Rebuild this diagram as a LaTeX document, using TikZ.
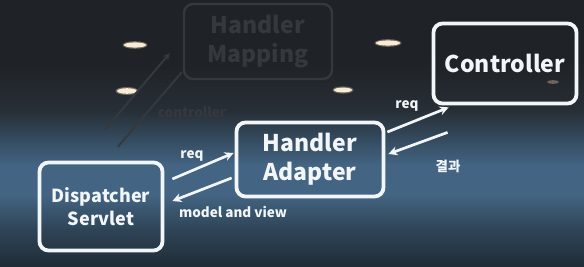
\documentclass[tikz,border=0pt]{standalone}
\usepackage{fontspec}
\setmainfont{Noto Sans CJK KR}
\usetikzlibrary{calc,arrows.meta}

\definecolor{ceiling}{HTML}{1F2226}
\definecolor{upper}{HTML}{272E35}
\definecolor{bandtop}{HTML}{354C60}
\definecolor{band}{HTML}{436482}
\definecolor{floorlit}{HTML}{2E4456}
\definecolor{floor}{HTML}{1F2B36}
\definecolor{ink}{HTML}{F2F6F8}
\definecolor{lamp}{HTML}{F8ECD8}
\definecolor{lamphalo}{HTML}{6E6558}
\definecolor{ghostink}{HTML}{35393D}

% projection wall: dark top, lit bluish band, darker floor
% (the middle 25bp..75bp of a shading is what covers the path)
\pgfdeclareverticalshading{wall}{100bp}{
  color(0bp)=(floor);
  color(25bp)=(floor);
  color(31.9bp)=(floorlit);
  color(38.5bp)=(band);
  color(44.1bp)=(band);
  color(48.8bp)=(bandtop);
  color(54.4bp)=(upper);
  color(63.8bp)=(ceiling);
  color(100bp)=(ceiling)}

\tikzset{
  box/.style={draw=ink, line width=3.8pt, rounded corners=9pt, inner sep=0pt,
    align=center, text=ink, font=\bfseries\fontsize{23}{29}\selectfont},
  ghost/.style={draw=ghostink, line width=2.4pt, rounded corners=9pt,
    inner sep=0pt, align=center, text=ghostink,
    font=\bfseries\fontsize{23}{29}\selectfont},
  ghostline/.style={draw=ghostink, line width=2pt},
  flow/.style={draw=ink, line width=2.7pt, -{Stealth[length=9pt,width=9pt]}},
  tag/.style={text=ink, font=\bfseries\fontsize{13.5}{16}\selectfont, inner sep=0pt}
}

\begin{document}
\begin{tikzpicture}[x=1pt,y=-1pt]
  \useasboundingbox (0,0) rectangle (584,267);
  \shade[shading=wall] (0,0) rectangle (584,267);

  % ceiling lamps reflected on the screen
  \foreach \cx/\cy/\rx/\ry in {135/45/11/2.6, 127/91/10/2.8, 388/43/12/2.6, 343/90/9/2.4} {
    \fill[lamphalo] (\cx,\cy) ellipse [x radius=\rx+1.5, y radius=\ry+1.2];
    \fill[lamp] (\cx,\cy) ellipse [x radius=\rx, y radius=\ry];
  }
  \fill[lamphalo] (553,82) ellipse [x radius=6, y radius=1.8];

  % dimmed step of the flow
  \node[ghost, minimum width=148pt, minimum height=75pt] (hm) at (258,41.5) {Handler\\Mapping};

  % active steps
  \node[box, minimum width=143pt, minimum height=80pt] (ctl) at (505,63.5) {Controller};
  \node[box, minimum width=147pt, minimum height=74pt] (ha) at (310,159.5) {Handler\\Adapter};
  \node[box, minimum width=123pt, minimum height=88pt,
        font=\bfseries\fontsize{18}{23}\selectfont] (ds) at (101,206.5) {Dispatcher\\Servlet};

  % dimmed connectors between the servlet and the mapping
  \draw[ghostline, -{Stealth[length=7pt,width=7pt]}] ($(ds.north)+(4,-31)$) -- ($(hm.south west)+(-13,-27)$);
  \draw[ghostline] ($(ds.north)+(17,-14)$) -- ($(hm.south west)+(-1,-8)$);
  \node[tag, text=ghostink] (ctltag) at (192,112) {controller};

  % request / response arrows
  \draw[flow] ($(ds.east)+(8,-27.5)$) -- ($(ha.west)+(-1,-6.5)$);
  \draw[flow] ($(ha.west)+(-3,18.5)$) -- ($(ds.east)+(8,-5.5)$);
  \draw[flow] ($(ha.east)+(2,-27.5)$) -- ($(ctl.south west)+(17,2)$);
  \draw[flow] ($(ctl.south west)+(16,27)$) -- ($(ha.east)+(3,-5.5)$);

  \node[tag] (req1) at (192,156) {req};
  \node[tag] (mv) at (233,212) {model and view};
  \node[tag] (req2) at (407,106) {req};
  \node[tag] (res) at (448,166) {결과};
\end{tikzpicture}
\end{document}
